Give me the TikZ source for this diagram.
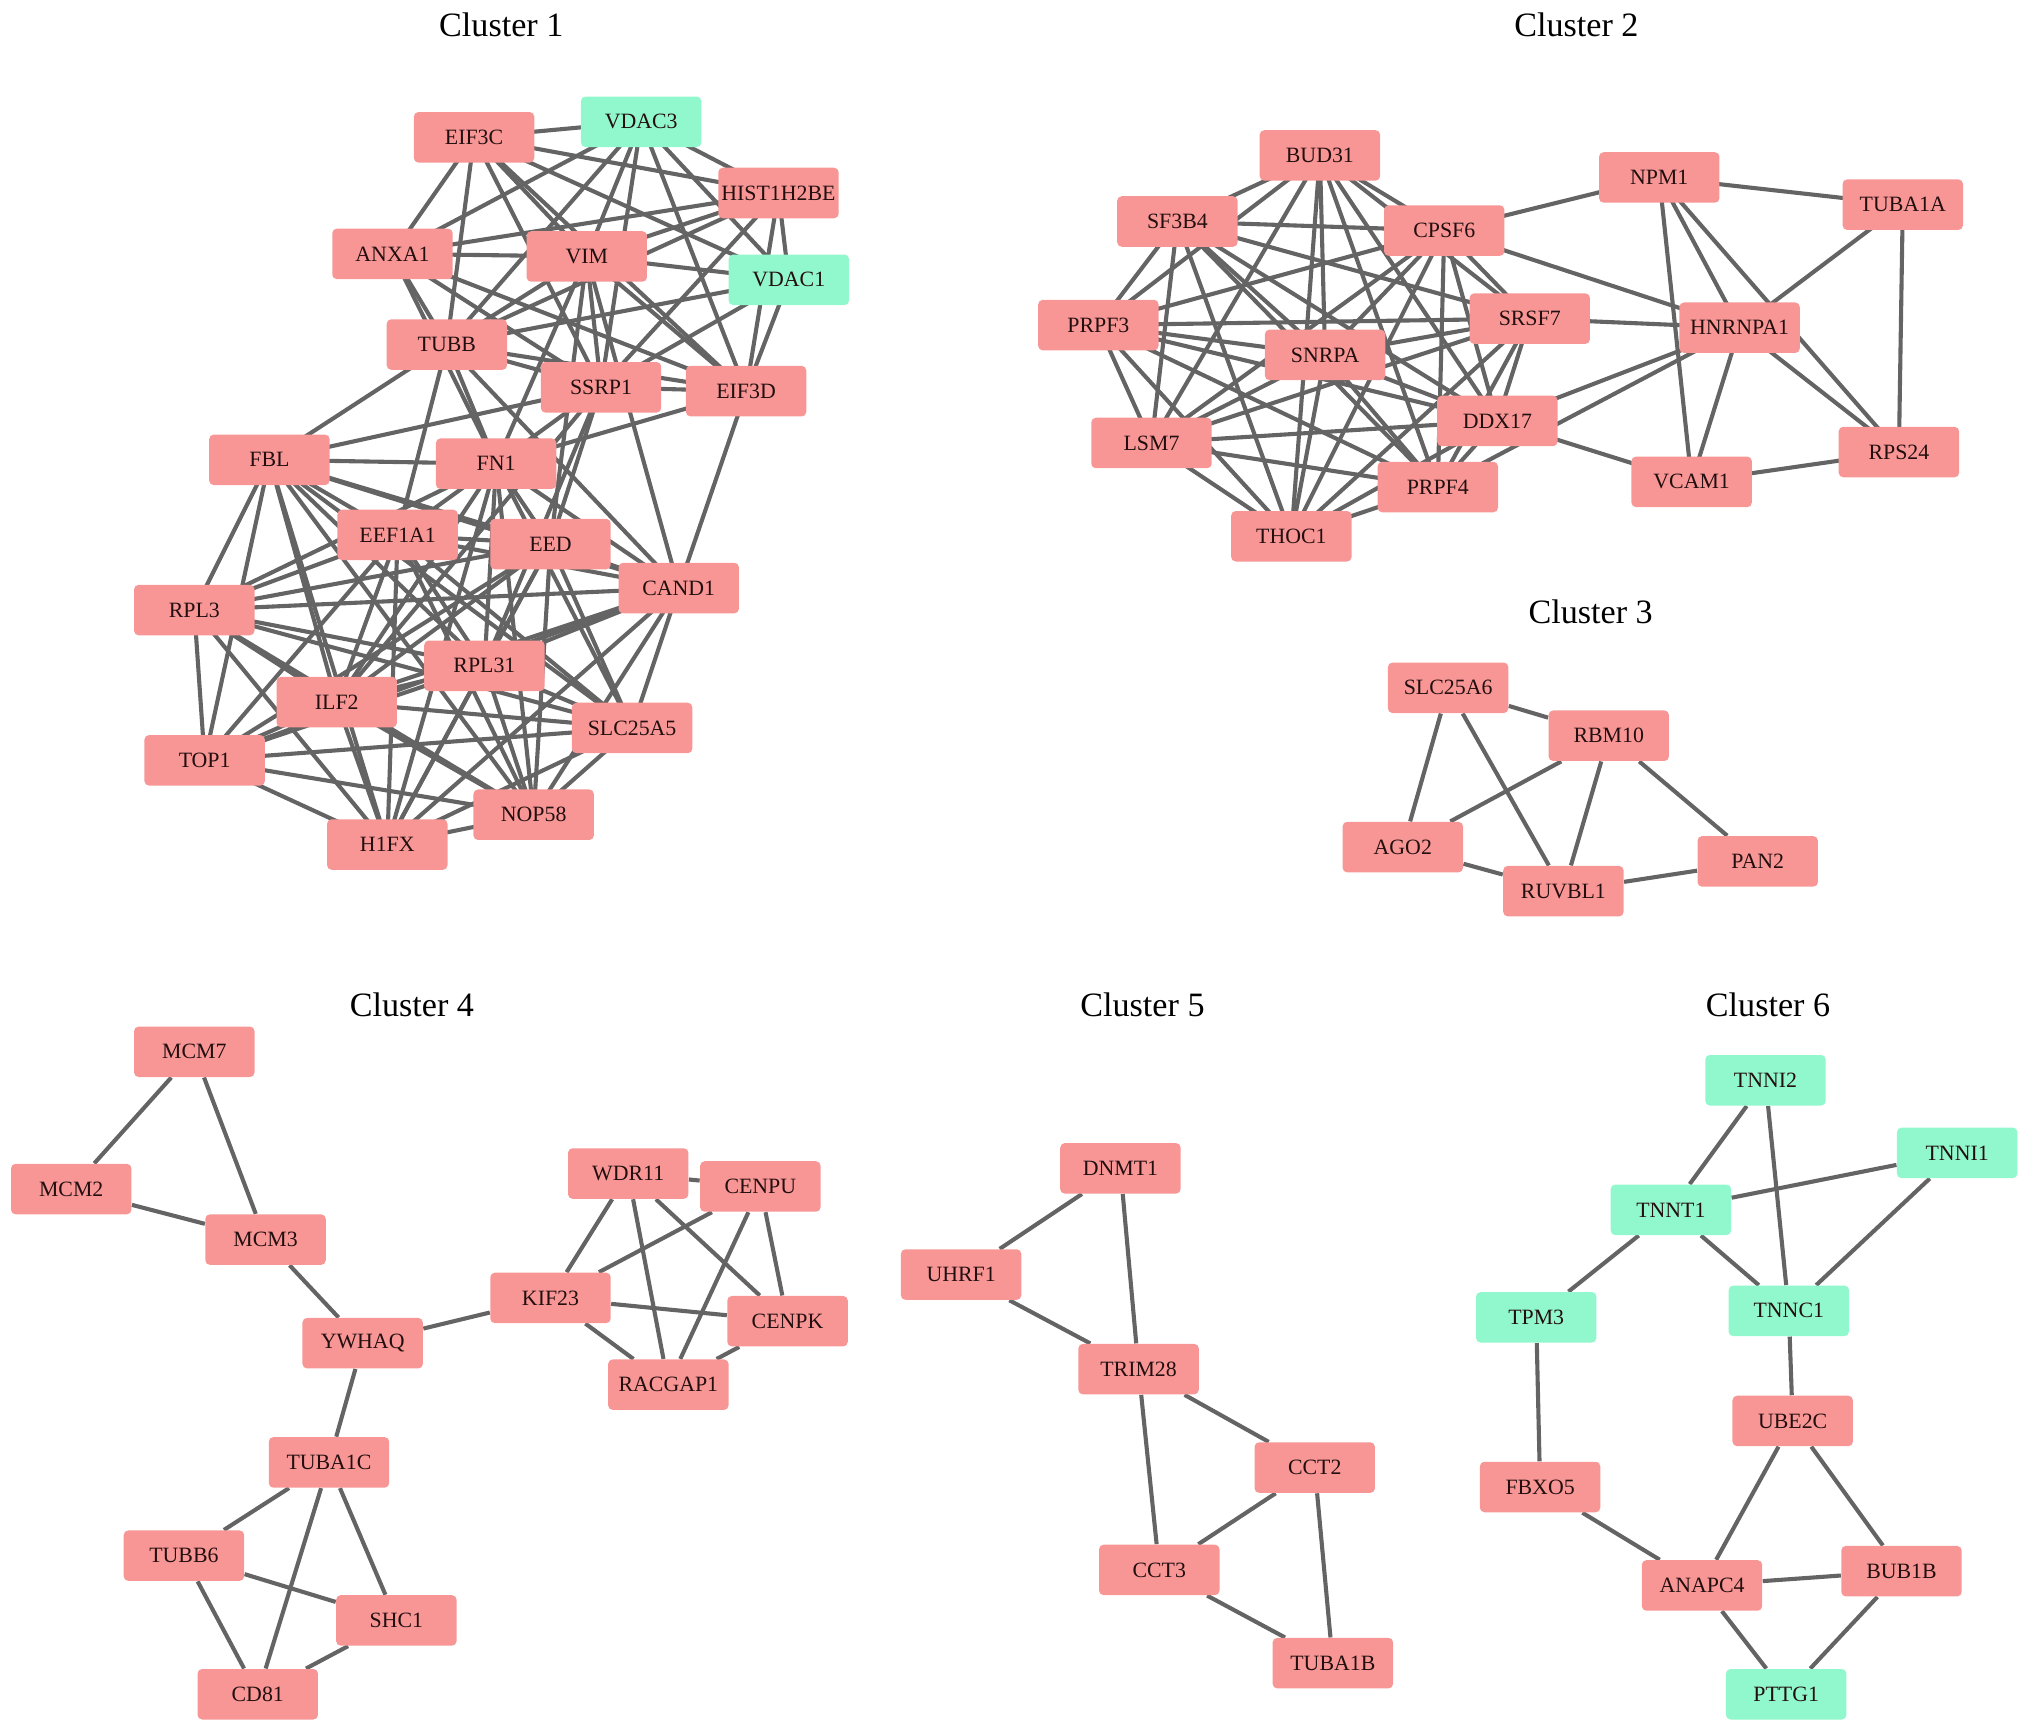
\documentclass[tikz,border=0pt]{standalone}
\usepackage{fontspec}
\setmainfont{Liberation Serif}
\usetikzlibrary{backgrounds}
\definecolor{genepink}{RGB}{248,150,150}
\definecolor{genegreen}{RGB}{145,248,205}
\definecolor{edgegray}{RGB}{100,100,100}
\definecolor{genetext}{RGB}{35,15,15}
\tikzset{
  gene/.style={rectangle, rounded corners=2pt, fill=genepink, minimum width=1.86cm,
    minimum height=0.78cm, inner sep=1pt, text=genetext, font=\fontsize{9.6}{10}\selectfont},
  greengene/.style={gene, fill=genegreen},
  title/.style={font=\fontsize{15}{17}\selectfont},
  link/.style={-, color=edgegray, line width=1.8pt}
}
\begin{document}
\begin{tikzpicture}[x=0.02cm, y=-0.02cm]
      \useasboundingbox (0,0) rectangle (1568,1339);
      % titles
      \draw
        (387,19) node[title] (t1){Cluster 1}
        (1217,19) node[title] (t2){Cluster 2}
        (1228,472) node[title] (t3){Cluster 3}
        (318,776) node[title] (t4){Cluster 4}
        (882,776) node[title] (t5){Cluster 5}
        (1365,776) node[title] (t6){Cluster 6};
      % cluster 1
      \draw
        (366,106) node[gene] (EIF3C){EIF3C}
        (495,94) node[greengene] (VDAC3){VDAC3}
        (601,149) node[gene] (HIST1H2BE){HIST1H2BE}
        (303,196) node[gene] (ANXA1){ANXA1}
        (453,198) node[gene] (VIM){VIM}
        (609,216) node[greengene] (VDAC1){VDAC1}
        (345,266) node[gene] (TUBB){TUBB}
        (464,299) node[gene] (SSRP1){SSRP1}
        (576,302) node[gene] (EIF3D){EIF3D}
        (208,355) node[gene] (FBL){FBL}
        (383,358) node[gene] (FN1){FN1}
        (307,413) node[gene] (EEF1A1){EEF1A1}
        (425,420) node[gene] (EED){EED}
        (524,454) node[gene] (CAND1){CAND1}
        (150,471) node[gene] (RPL3){RPL3}
        (374,514) node[gene] (RPL31){RPL31}
        (260,542) node[gene] (ILF2){ILF2}
        (488,562) node[gene] (SLC25A5){SLC25A5}
        (158,587) node[gene] (TOP1){TOP1}
        (412,629) node[gene] (NOP58){NOP58}
        (299,652) node[gene] (H1FX){H1FX};
      % cluster 2
      \draw
        (1019,120) node[gene] (BUD31){BUD31}
        (909,171) node[gene] (SF3B4){SF3B4}
        (1115,178) node[gene] (CPSF6){CPSF6}
        (1281,137) node[gene] (NPM1){NPM1}
        (1469,158) node[gene] (TUBA1A){TUBA1A}
        (848,251) node[gene] (PRPF3){PRPF3}
        (1023,274) node[gene] (SNRPA){SNRPA}
        (1181,246) node[gene] (SRSF7){SRSF7}
        (1343,253) node[gene] (HNRNPA1){HNRNPA1}
        (889,342) node[gene] (LSM7){LSM7}
        (1156,325) node[gene] (DDX17){DDX17}
        (1110,376) node[gene] (PRPF4){PRPF4}
        (997,414) node[gene] (THOC1){THOC1}
        (1306,372) node[gene] (VCAM1){VCAM1}
        (1466,349) node[gene] (RPS24){RPS24};
      % cluster 3
      \draw
        (1118,531) node[gene] (SLC25A6){SLC25A6}
        (1242,568) node[gene] (RBM10){RBM10}
        (1083,654) node[gene] (AGO2){AGO2}
        (1207,688) node[gene] (RUVBL1){RUVBL1}
        (1357,665) node[gene] (PAN2){PAN2};
      % cluster 4
      \draw
        (150,812) node[gene] (MCM7){MCM7}
        (55,918) node[gene] (MCM2){MCM2}
        (205,957) node[gene] (MCM3){MCM3}
        (280,1037) node[gene] (YWHAQ){YWHAQ}
        (425,1002) node[gene] (KIF23){KIF23}
        (485,906) node[gene] (WDR11){WDR11}
        (587,916) node[gene] (CENPU){CENPU}
        (608,1020) node[gene] (CENPK){CENPK}
        (516,1069) node[gene] (RACGAP1){RACGAP1}
        (254,1129) node[gene] (TUBA1C){TUBA1C}
        (142,1201) node[gene] (TUBB6){TUBB6}
        (306,1251) node[gene] (SHC1){SHC1}
        (199,1308) node[gene] (CD81){CD81};
      % cluster 5
      \draw
        (865,902) node[gene] (DNMT1){DNMT1}
        (742,984) node[gene] (UHRF1){UHRF1}
        (879,1057) node[gene] (TRIM28){TRIM28}
        (1015,1133) node[gene] (CCT2){CCT2}
        (895,1212) node[gene] (CCT3){CCT3}
        (1029,1284) node[gene] (TUBA1B){TUBA1B};
      % cluster 6
      \draw
        (1363,834) node[greengene] (TNNI2){TNNI2}
        (1511,890) node[greengene] (TNNI1){TNNI1}
        (1290,934) node[greengene] (TNNT1){TNNT1}
        (1186,1017) node[greengene] (TPM3){TPM3}
        (1381,1012) node[greengene] (TNNC1){TNNC1}
        (1384,1097) node[gene] (UBE2C){UBE2C}
        (1189,1148) node[gene] (FBXO5){FBXO5}
        (1314,1224) node[gene] (ANAPC4){ANAPC4}
        (1468,1213) node[gene] (BUB1B){BUB1B}
        (1379,1308) node[greengene] (PTTG1){PTTG1};
      \begin{scope}[on background layer]
      \begin{scope}[link]
        % cluster 1, upper part
        \draw (EIF3C.center) to (VDAC3.center);
        \draw (EIF3C.center) to (HIST1H2BE.center);
        \draw (EIF3C.center) to (VDAC1.center);
        \draw (EIF3C.center) to (ANXA1.center);
        \draw (EIF3C.center) to (TUBB.center);
        \draw (EIF3C.center) to (VIM.center);
        \draw (EIF3C.center) to (SSRP1.center);
        \draw (EIF3C.center) to (EIF3D.center);
        \draw (VDAC3.center) to (HIST1H2BE.center);
        \draw (VDAC3.center) to (VDAC1.center);
        \draw (VDAC3.center) to (ANXA1.center);
        \draw (VDAC3.center) to (TUBB.center);
        \draw (VDAC3.center) to (VIM.center);
        \draw (VDAC3.center) to (SSRP1.center);
        \draw (VDAC3.center) to (EIF3D.center);
        \draw (HIST1H2BE.center) to (VDAC1.center);
        \draw (HIST1H2BE.center) to (ANXA1.center);
        \draw (HIST1H2BE.center) to (VIM.center);
        \draw (HIST1H2BE.center) to (TUBB.center);
        \draw (HIST1H2BE.center) to (SSRP1.center);
        \draw (HIST1H2BE.center) to (EIF3D.center);
        \draw (ANXA1.center) to (VIM.center);
        \draw (ANXA1.center) to (TUBB.center);
        \draw (ANXA1.center) to (SSRP1.center);
        \draw (ANXA1.center) to (EIF3D.center);
        \draw (ANXA1.center) to (FN1.center);
        \draw (VIM.center) to (VDAC1.center);
        \draw (VIM.center) to (TUBB.center);
        \draw (VIM.center) to (SSRP1.center);
        \draw (VIM.center) to (EIF3D.center);
        \draw (VIM.center) to (FN1.center);
        \draw (VIM.center) to (EED.center);
        \draw (VIM.center) to (CAND1.center);
        \draw (VDAC1.center) to (TUBB.center);
        \draw (VDAC1.center) to (SSRP1.center);
        \draw (VDAC1.center) to (EIF3D.center);
        \draw (TUBB.center) to (SSRP1.center);
        \draw (TUBB.center) to (EIF3D.center);
        \draw (TUBB.center) to (FBL.center);
        \draw (TUBB.center) to (FN1.center);
        \draw (TUBB.center) to (EEF1A1.center);
        \draw (TUBB.center) to (CAND1.center);
        \draw (SSRP1.center) to (EIF3D.center);
        \draw (SSRP1.center) to (FBL.center);
        \draw (SSRP1.center) to (FN1.center);
        \draw (SSRP1.center) to (EED.center);
        \draw (SSRP1.center) to (RPL31.center);
        \draw (SSRP1.center) to (ILF2.center);
        \draw (EIF3D.center) to (FN1.center);
        \draw (EIF3D.center) to (CAND1.center);
        % cluster 1, lower part
        \draw (FBL.center) to (FN1.center);
        \draw (FBL.center) to (EEF1A1.center);
        \draw (FBL.center) to (EED.center);
        \draw (FBL.center) to (CAND1.center);
        \draw (FBL.center) to (RPL3.center);
        \draw (FBL.center) to (RPL31.center);
        \draw (FBL.center) to (ILF2.center);
        \draw (FBL.center) to (SLC25A5.center);
        \draw (FBL.center) to (TOP1.center);
        \draw (FBL.center) to (NOP58.center);
        \draw (FBL.center) to (H1FX.center);
        \draw (FN1.center) to (EEF1A1.center);
        \draw (FN1.center) to (EED.center);
        \draw (FN1.center) to (CAND1.center);
        \draw (FN1.center) to (RPL3.center);
        \draw (FN1.center) to (RPL31.center);
        \draw (FN1.center) to (ILF2.center);
        \draw (FN1.center) to (SLC25A5.center);
        \draw (FN1.center) to (NOP58.center);
        \draw (FN1.center) to (H1FX.center);
        \draw (EEF1A1.center) to (EED.center);
        \draw (EEF1A1.center) to (CAND1.center);
        \draw (EEF1A1.center) to (RPL3.center);
        \draw (EEF1A1.center) to (RPL31.center);
        \draw (EEF1A1.center) to (ILF2.center);
        \draw (EEF1A1.center) to (SLC25A5.center);
        \draw (EEF1A1.center) to (TOP1.center);
        \draw (EEF1A1.center) to (NOP58.center);
        \draw (EEF1A1.center) to (H1FX.center);
        \draw (EED.center) to (CAND1.center);
        \draw (EED.center) to (RPL3.center);
        \draw (EED.center) to (RPL31.center);
        \draw (EED.center) to (ILF2.center);
        \draw (EED.center) to (SLC25A5.center);
        \draw (EED.center) to (TOP1.center);
        \draw (EED.center) to (NOP58.center);
        \draw (EED.center) to (H1FX.center);
        \draw (CAND1.center) to (RPL3.center);
        \draw (CAND1.center) to (RPL31.center);
        \draw (CAND1.center) to (ILF2.center);
        \draw (CAND1.center) to (SLC25A5.center);
        \draw (CAND1.center) to (TOP1.center);
        \draw (CAND1.center) to (NOP58.center);
        \draw (CAND1.center) to (H1FX.center);
        \draw (RPL3.center) to (RPL31.center);
        \draw (RPL3.center) to (ILF2.center);
        \draw (RPL3.center) to (SLC25A5.center);
        \draw (RPL3.center) to (TOP1.center);
        \draw (RPL3.center) to (NOP58.center);
        \draw (RPL3.center) to (H1FX.center);
        \draw (RPL31.center) to (ILF2.center);
        \draw (RPL31.center) to (SLC25A5.center);
        \draw (RPL31.center) to (TOP1.center);
        \draw (RPL31.center) to (NOP58.center);
        \draw (RPL31.center) to (H1FX.center);
        \draw (ILF2.center) to (SLC25A5.center);
        \draw (ILF2.center) to (TOP1.center);
        \draw (ILF2.center) to (NOP58.center);
        \draw (ILF2.center) to (H1FX.center);
        \draw (SLC25A5.center) to (TOP1.center);
        \draw (SLC25A5.center) to (NOP58.center);
        \draw (SLC25A5.center) to (H1FX.center);
        \draw (TOP1.center) to (NOP58.center);
        \draw (TOP1.center) to (H1FX.center);
        \draw (NOP58.center) to (H1FX.center);
        % cluster 2
        \draw (BUD31.center) to (SF3B4.center);
        \draw (BUD31.center) to (CPSF6.center);
        \draw (BUD31.center) to (PRPF3.center);
        \draw (BUD31.center) to (SNRPA.center);
        \draw (BUD31.center) to (SRSF7.center);
        \draw (BUD31.center) to (LSM7.center);
        \draw (BUD31.center) to (DDX17.center);
        \draw (BUD31.center) to (PRPF4.center);
        \draw (BUD31.center) to (THOC1.center);
        \draw (SF3B4.center) to (CPSF6.center);
        \draw (SF3B4.center) to (PRPF3.center);
        \draw (SF3B4.center) to (SNRPA.center);
        \draw (SF3B4.center) to (SRSF7.center);
        \draw (SF3B4.center) to (LSM7.center);
        \draw (SF3B4.center) to (DDX17.center);
        \draw (SF3B4.center) to (PRPF4.center);
        \draw (SF3B4.center) to (THOC1.center);
        \draw (CPSF6.center) to (PRPF3.center);
        \draw (CPSF6.center) to (SNRPA.center);
        \draw (CPSF6.center) to (SRSF7.center);
        \draw (CPSF6.center) to (LSM7.center);
        \draw (CPSF6.center) to (DDX17.center);
        \draw (CPSF6.center) to (PRPF4.center);
        \draw (CPSF6.center) to (THOC1.center);
        \draw (CPSF6.center) to (NPM1.center);
        \draw (CPSF6.center) to (HNRNPA1.center);
        \draw (PRPF3.center) to (SNRPA.center);
        \draw (PRPF3.center) to (SRSF7.center);
        \draw (PRPF3.center) to (LSM7.center);
        \draw (PRPF3.center) to (DDX17.center);
        \draw (PRPF3.center) to (PRPF4.center);
        \draw (PRPF3.center) to (THOC1.center);
        \draw (SNRPA.center) to (SRSF7.center);
        \draw (SNRPA.center) to (LSM7.center);
        \draw (SNRPA.center) to (DDX17.center);
        \draw (SNRPA.center) to (PRPF4.center);
        \draw (SNRPA.center) to (THOC1.center);
        \draw (SRSF7.center) to (LSM7.center);
        \draw (SRSF7.center) to (DDX17.center);
        \draw (SRSF7.center) to (PRPF4.center);
        \draw (SRSF7.center) to (THOC1.center);
        \draw (SRSF7.center) to (HNRNPA1.center);
        \draw (LSM7.center) to (DDX17.center);
        \draw (LSM7.center) to (PRPF4.center);
        \draw (LSM7.center) to (THOC1.center);
        \draw (DDX17.center) to (PRPF4.center);
        \draw (DDX17.center) to (THOC1.center);
        \draw (DDX17.center) to (HNRNPA1.center);
        \draw (DDX17.center) to (VCAM1.center);
        \draw (PRPF4.center) to (THOC1.center);
        \draw (PRPF4.center) to (HNRNPA1.center);
        \draw (NPM1.center) to (TUBA1A.center);
        \draw (NPM1.center) to (HNRNPA1.center);
        \draw (NPM1.center) to (VCAM1.center);
        \draw (NPM1.center) to (RPS24.center);
        \draw (TUBA1A.center) to (HNRNPA1.center);
        \draw (TUBA1A.center) to (RPS24.center);
        \draw (HNRNPA1.center) to (VCAM1.center);
        \draw (HNRNPA1.center) to (RPS24.center);
        \draw (VCAM1.center) to (RPS24.center);
        % cluster 3
        \draw (SLC25A6) to (RBM10);
        \draw (SLC25A6) to (AGO2);
        \draw (SLC25A6) to (RUVBL1);
        \draw (RBM10) to (AGO2);
        \draw (RBM10) to (RUVBL1);
        \draw (RBM10) to (PAN2);
        \draw (AGO2) to (RUVBL1);
        \draw (RUVBL1) to (PAN2);
        % cluster 4
        \draw (MCM7) to (MCM2);
        \draw (MCM7) to (MCM3);
        \draw (MCM2) to (MCM3);
        \draw (MCM3) to (YWHAQ);
        \draw (YWHAQ) to (KIF23);
        \draw (YWHAQ) to (TUBA1C);
        \draw (KIF23) to (WDR11);
        \draw (KIF23) to (CENPU);
        \draw (KIF23) to (CENPK);
        \draw (KIF23) to (RACGAP1);
        \draw (WDR11) to (CENPU);
        \draw (WDR11) to (CENPK);
        \draw (WDR11) to (RACGAP1);
        \draw (CENPU) to (CENPK);
        \draw (CENPU) to (RACGAP1);
        \draw (CENPK) to (RACGAP1);
        \draw (TUBA1C) to (TUBB6);
        \draw (TUBA1C) to (SHC1);
        \draw (TUBA1C) to (CD81);
        \draw (TUBB6) to (SHC1);
        \draw (TUBB6) to (CD81);
        \draw (SHC1) to (CD81);
        % cluster 5
        \draw (DNMT1) to (UHRF1);
        \draw (DNMT1) to (TRIM28);
        \draw (UHRF1) to (TRIM28);
        \draw (TRIM28) to (CCT2);
        \draw (TRIM28) to (CCT3);
        \draw (CCT2) to (CCT3);
        \draw (CCT2) to (TUBA1B);
        \draw (CCT3) to (TUBA1B);
        % cluster 6
        \draw (TNNI2) to (TNNT1);
        \draw (TNNI2) to (TNNC1);
        \draw (TNNI1) to (TNNT1);
        \draw (TNNI1) to (TNNC1);
        \draw (TNNT1) to (TNNC1);
        \draw (TNNT1) to (TPM3);
        \draw (TPM3) to (FBXO5);
        \draw (TNNC1) to (UBE2C);
        \draw (UBE2C) to (ANAPC4);
        \draw (UBE2C) to (BUB1B);
        \draw (FBXO5) to (ANAPC4);
        \draw (ANAPC4) to (BUB1B);
        \draw (ANAPC4) to (PTTG1);
        \draw (BUB1B) to (PTTG1);
      \end{scope}
      \end{scope}
    \end{tikzpicture}
\end{document}
